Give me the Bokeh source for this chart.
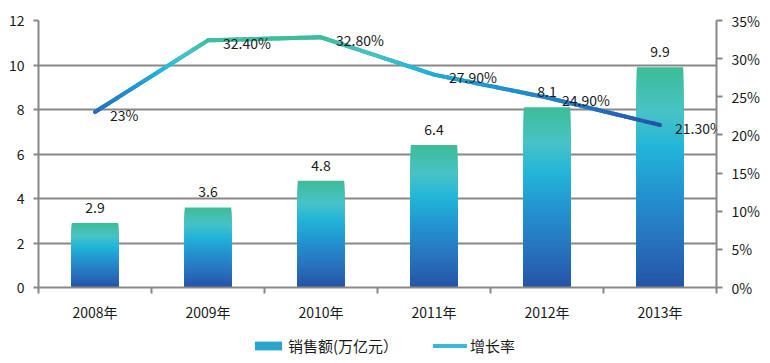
import numpy as np
from bokeh.plotting import figure
from bokeh.layouts import column
from bokeh.models import (Range1d, LinearAxis, FixedTicker, PrintfTickFormatter,
                          ColumnDataSource, LabelSet, Legend, LegendItem)
from bokeh.core.properties import value
from bokeh.embed import file_html
from bokeh.resources import INLINE

# ---- data ----
years = ["2008年", "2009年", "2010年", "2011年", "2012年", "2013年"]
sales = [2.9, 3.6, 4.8, 6.4, 8.1, 9.9]                 # 销售额(万亿元)
sales_labels = ["2.9", "3.6", "4.8", "6.4", "8.1", "9.9"]
growth = [23.0, 32.4, 32.8, 27.9, 24.9, 21.3]          # 增长率 (%)
growth_labels = ["23%", "32.40%", "32.80%", "27.90%", "24.90%", "21.30%"]
left_ticks = [0, 2, 4, 6, 8, 10, 12]
right_ticks = [0, 5, 10, 15, 20, 25, 30, 35]
series_names = ["销售额(万亿元）", "增长率"]

FONT = "Noto Sans CJK SC"
GRID = "#888888"
TXT = "#1a1a1a"

# gradient stops: position from top (0) to bottom (1)
stops = [(0.00, (0x3d, 0xbd, 0x96)),
         (0.20, (0x48, 0xc2, 0xc6)),
         (0.36, (0x22, 0xb6, 0xd8)),
         (0.56, (0x23, 0x94, 0xd0)),
         (0.80, (0x28, 0x71, 0xbd)),
         (1.00, (0x25, 0x53, 0xa5))]


def grad(f):
    f = min(max(f, 0.0), 1.0)
    for (a, ca), (b, cb) in zip(stops[:-1], stops[1:]):
        if a <= f <= b:
            t = (f - a) / (b - a) if b > a else 0
            c = [int(round(ca[j] + (cb[j] - ca[j]) * t)) for j in range(3)]
            return "#%02x%02x%02x" % tuple(c)
    return "#%02x%02x%02x" % stops[-1][1]


xi = list(range(len(years)))

p = figure(width=770, height=330, x_range=Range1d(-0.5, len(years) - 0.5),
           y_range=Range1d(0, 12), output_backend="svg", toolbar_location=None,
           min_border_left=38, min_border_right=54, min_border_top=20,
           min_border_bottom=43)
p.outline_line_color = None
p.background_fill_color = "white"
p.border_fill_color = "white"

# x axis
xa = p.xaxis[0]
xa.ticker = FixedTicker(ticks=xi, minor_ticks=[i - 0.5 for i in range(len(years) + 1)])
xa.major_label_overrides = {i: y for i, y in zip(xi, years)}
xa.major_tick_out = 0
xa.major_tick_in = 0
xa.minor_tick_out = 6
xa.minor_tick_in = 0
xa.minor_tick_line_color = GRID
xa.minor_tick_line_width = 2
xa.axis_line_color = GRID
xa.axis_line_width = 2
xa.major_label_standoff = 8
xa.major_label_text_font = FONT
xa.major_label_text_font_size = "14px"
xa.major_label_text_color = TXT

# left axis
ya = p.yaxis[0]
ya.ticker = FixedTicker(ticks=left_ticks)
ya.major_tick_out = 5
ya.major_tick_in = 0
ya.minor_tick_out = 0
ya.minor_tick_in = 0
ya.major_tick_line_color = GRID
ya.major_tick_line_width = 2
ya.axis_line_color = GRID
ya.axis_line_width = 2
ya.major_label_standoff = 9
ya.major_label_text_font = FONT
ya.major_label_text_font_size = "14px"
ya.major_label_text_color = TXT

p.xgrid.grid_line_color = None
p.ygrid.grid_line_color = GRID
p.ygrid.grid_line_width = 2

# right axis
p.extra_y_ranges = {"pct": Range1d(0, 35)}
ra = LinearAxis(y_range_name="pct", ticker=FixedTicker(ticks=right_ticks),
                formatter=PrintfTickFormatter(format="%d%%"))
ra.major_tick_out = 6
ra.major_tick_in = 0
ra.minor_tick_out = 0
ra.minor_tick_in = 0
ra.major_tick_line_color = GRID
ra.major_tick_line_width = 2
ra.axis_line_color = GRID
ra.axis_line_width = 2
ra.major_label_standoff = 9
ra.major_label_text_font = FONT
ra.major_label_text_font_size = "14px"
ra.major_label_text_color = TXT
p.add_layout(ra, "right")

# bars with vertical gradient: stacked shrinking bars, top color first
N = 80
bx, btop, bcol = [], [], []
for k in range(N):
    f = k / N
    for i, v in zip(xi, sales):
        bx.append(i)
        btop.append(v * (1 - f))
        bcol.append(grad(f + 0.5 / N))
p.vbar(x=bx, top=btop, bottom=0, width=0.41, fill_color=bcol, line_color=None)

# growth line: base line + gradient overlay
p.line(xi, growth, y_range_name="pct", line_color="#3ab8d4",
       line_width=4, line_cap="round", line_join="round")
gmax, gmin = max(growth), min(growth)
M = 16
sx0, sy0, sx1, sy1, scol = [], [], [], [], []
for j in range(len(growth) - 1):
    for m in range(M):
        t0, t1 = m / M, (m + 1) / M
        xa0 = xi[j] + (xi[j + 1] - xi[j]) * t0
        xa1 = xi[j] + (xi[j + 1] - xi[j]) * t1
        ya0 = growth[j] + (growth[j + 1] - growth[j]) * t0
        ya1 = growth[j] + (growth[j + 1] - growth[j]) * t1
        sx0.append(xa0); sx1.append(xa1); sy0.append(ya0); sy1.append(ya1)
        ym = (ya0 + ya1) / 2
        scol.append(grad((gmax - ym) / (gmax - gmin)))
p.segment(x0=sx0, y0=sy0, x1=sx1, y1=sy1, y_range_name="pct",
          line_color=scol, line_width=4, line_cap="round")

# labels
bsrc = ColumnDataSource(dict(x=xi, y=sales, t=sales_labels))
p.add_layout(LabelSet(x="x", y="y", text="t", source=bsrc, text_align="center",
                      text_baseline="alphabetic", y_offset=10,
                      text_font=value(FONT), text_font_size=value("14px"),
                      text_color=TXT))
gsrc = ColumnDataSource(dict(x=xi, y=growth, t=growth_labels))
p.add_layout(LabelSet(x="x", y="y", text="t", source=gsrc, y_range_name="pct",
                      text_align="left", text_baseline="alphabetic",
                      x_offset=15, y_offset=-8.5,
                      text_font=value(FONT), text_font_size=value("14px"),
                      text_color=TXT))

# ---- legend strip (separate small figure below) ----
lg = figure(width=770, height=33, x_range=Range1d(0, 1), y_range=Range1d(0, 1),
            output_backend="svg", toolbar_location=None, min_border=0,
            x_axis_location=None, y_axis_location=None)
lg.outline_line_color = None
lg.xgrid.grid_line_color = None
lg.ygrid.grid_line_color = None
# legend proxies: a zero-height bar and a single-point line (draw nothing)
bar_proxy = lg.vbar(x=[0.5], top=[0], bottom=0, width=0.41,
                    fill_color="#2aa6cc", line_color=None)
line_proxy = lg.line(x=[0.5], y=[0.5], line_color="#3ab8d4", line_width=4,
                     line_cap="round")
legend = Legend(items=[LegendItem(label=series_names[0], renderers=[bar_proxy]),
                       LegendItem(label=series_names[1], renderers=[line_proxy])],
                orientation="horizontal", location=(213, 7),
                glyph_width=34, glyph_height=11, label_standoff=3, spacing=35,
                padding=0, margin=0, border_line_color=None,
                background_fill_alpha=0, label_text_font=FONT,
                label_text_font_size="15px", label_text_color=TXT)
lg.add_layout(legend, "center")

open("out.html", "w").write(file_html(column(p, lg, spacing=0), INLINE))
